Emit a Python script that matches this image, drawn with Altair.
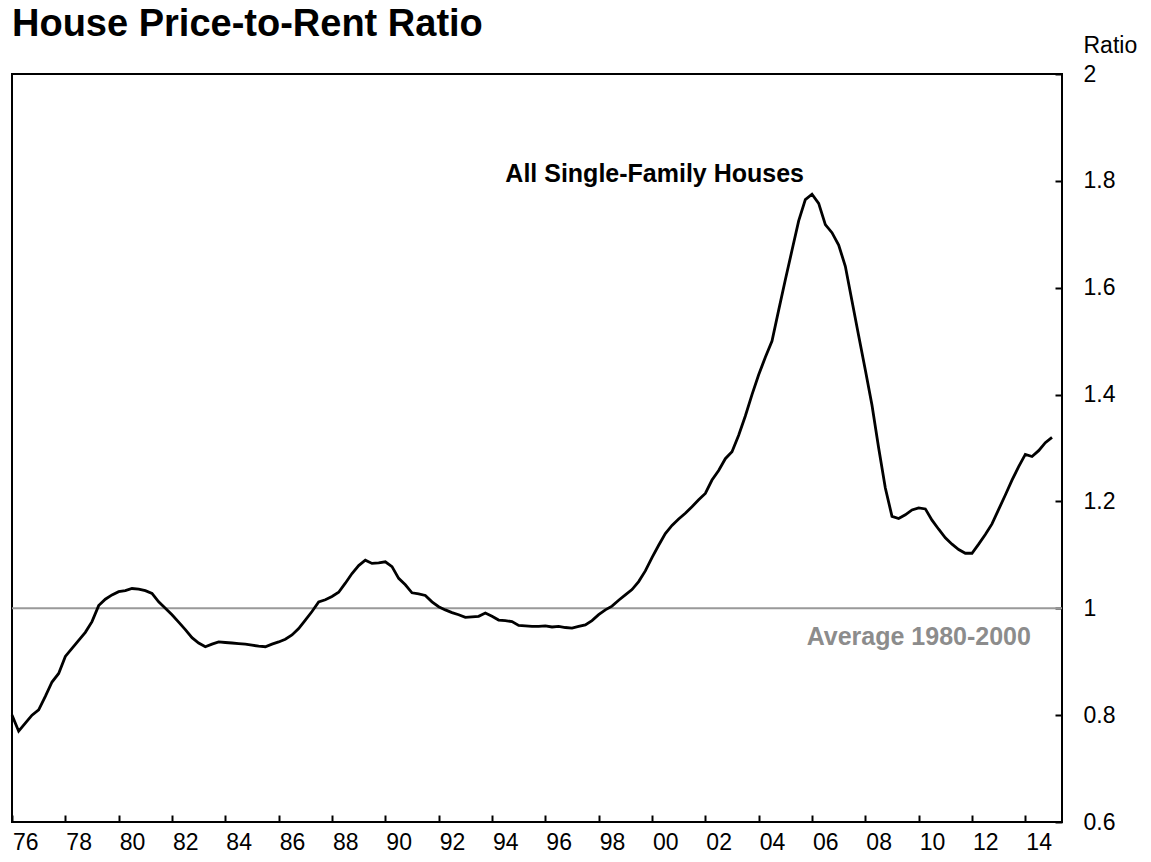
import altair as alt
import pandas as pd

# Quarterly house price-to-rent ratio, 1976Q1 .. 2015Q1
start_year = 1976
ratio_values = [
    0.800, 0.770, 0.785, 0.800,   # 1976
    0.810, 0.835, 0.862, 0.878,   # 1977
    0.910, 0.925, 0.940, 0.955,   # 1978
    0.975, 1.005, 1.017, 1.025,   # 1979
    1.031, 1.033, 1.037, 1.036,   # 1980
    1.033, 1.028, 1.012, 1.000,   # 1981
    0.988, 0.974, 0.960, 0.945,   # 1982
    0.935, 0.928, 0.933, 0.937,   # 1983
    0.936, 0.935, 0.934, 0.933,   # 1984
    0.931, 0.929, 0.928, 0.933,   # 1985
    0.937, 0.942, 0.950, 0.962,   # 1986
    0.978, 0.994, 1.012, 1.016,   # 1987
    1.022, 1.030, 1.047, 1.065,   # 1988
    1.080, 1.090, 1.084, 1.085,   # 1989
    1.087, 1.078, 1.056, 1.044,   # 1990
    1.029, 1.027, 1.024, 1.012,   # 1991
    1.003, 0.997, 0.992, 0.988,   # 1992
    0.983, 0.984, 0.985, 0.991,   # 1993
    0.985, 0.978, 0.977, 0.975,   # 1994
    0.968, 0.967, 0.966, 0.966,   # 1995
    0.967, 0.965, 0.966, 0.964,   # 1996
    0.963, 0.966, 0.969, 0.977,   # 1997
    0.988, 0.997, 1.004, 1.015,   # 1998
    1.025, 1.035, 1.050, 1.070,   # 1999
    1.095, 1.118, 1.140, 1.155,   # 2000
    1.167, 1.178, 1.190, 1.203,   # 2001
    1.215, 1.240, 1.258, 1.280,   # 2002
    1.293, 1.324, 1.360, 1.400,   # 2003
    1.437, 1.470, 1.500, 1.558,   # 2004
    1.615, 1.670, 1.725, 1.765,   # 2005
    1.775, 1.758, 1.718, 1.703,   # 2006
    1.680, 1.640, 1.575, 1.510,   # 2007
    1.446, 1.380, 1.300, 1.225,   # 2008
    1.172, 1.168, 1.175, 1.184,   # 2009
    1.188, 1.186, 1.165, 1.148,   # 2010
    1.132, 1.120, 1.110, 1.103,   # 2011
    1.103, 1.120, 1.138, 1.158,   # 2012
    1.185, 1.212, 1.240, 1.265,   # 2013
    1.288, 1.284, 1.295, 1.310,   # 2014
    1.320,                        # 2015
]
periods = [start_year + i / 4 for i in range(len(ratio_values))]

average_level = [1.0]
year_ticks = list(range(1976, 2016))
y_tick_values = [0.6, 0.8, 1.0, 1.2, 1.4, 1.6, 1.8, 2.0]

annot_text = ["All Single-Family Houses", "Average 1980-2000"]
annot_x = [1994.5, 2005.8]
annot_y = [1.797, 0.931]
annot_color = ["#000000", "#8c8c8c"]

FONT = "Liberation Sans"
W, H = 1050, 748
x_dom = [1976, 2015.375]
y_dom = [0.6, 2.0]
TICK = 7
half_year_px = W / (x_dom[1] - x_dom[0]) / 2

df = pd.DataFrame({"period": periods, "ratio": ratio_values})
x_scale = alt.Scale(domain=x_dom, nice=False, zero=False)
y_scale = alt.Scale(domain=y_dom, nice=False, zero=False)

line = alt.Chart(df).mark_line(color="black", strokeWidth=2.8).encode(
    x=alt.X(
        "period:Q",
        scale=x_scale,
        axis=alt.Axis(
            values=year_ticks,
            labelExpr="datum.value % 2 == 0 ? slice('0' + toString(datum.value % 100), -2) : ''",
            ticks=True,
            tickSize=TICK,
            tickWidth=2,
            tickColor="#000",
            offset=-TICK,
            labelOffset=half_year_px,
            labelOverlap=False,
            labelFlush=False,
            grid=False,
            domain=False,
            labelFontSize=23,
            labelFont=FONT,
            labelColor="#000",
            labelPadding=9,
            title=None,
        ),
    ),
    y=alt.Y(
        "ratio:Q",
        scale=y_scale,
        axis=alt.Axis(
            orient="right",
            values=y_tick_values,
            format=".1~f",
            ticks=True,
            tickSize=TICK,
            tickWidth=2,
            tickColor="#000",
            offset=-TICK,
            grid=False,
            domain=False,
            labelFontSize=23,
            labelFont=FONT,
            labelColor="#000",
            labelPadding=21,
            labelBaseline="middle",
            labelFlush=False,
            labelOverlap=False,
            title="Ratio",
            titleAngle=0,
            titleAlign="left",
            titleBaseline="alphabetic",
            titleX=21 + TICK,
            titleY=-22,
            titleFont=FONT,
            titleFontSize=23,
            titleFontWeight="normal",
            titleColor="#000",
        ),
    ),
)

avg = alt.Chart(pd.DataFrame({"avg": average_level})).mark_rule(
    color="#999999", strokeWidth=2
).encode(y=alt.Y("avg:Q", scale=y_scale))

ann = alt.Chart(
    pd.DataFrame({"t": annot_text, "x": annot_x, "y": annot_y, "c": annot_color})
).mark_text(
    font=FONT, fontSize=25, fontWeight="bold", align="left", baseline="alphabetic"
).encode(
    x=alt.X("x:Q", scale=x_scale),
    y=alt.Y("y:Q", scale=y_scale),
    text="t:N",
    color=alt.Color("c:N", scale=None),
)

chart = (
    alt.layer(avg, line, ann)
    .properties(
        width=W,
        height=H,
        title=alt.TitleParams(
            "House Price-to-Rent Ratio",
            anchor="start",
            frame="group",
            font=FONT,
            fontSize=38,
            fontWeight="bold",
            color="#000",
            offset=-10,
        ),
        autosize=alt.AutoSizeParams(type="none"),
        padding={"left": 4, "top": 66, "right": 78, "bottom": 38},
    )
    .configure(background="white")
    .configure_view(stroke="black", strokeWidth=2)
)

chart.save("out.html", embed_options={"renderer": "svg", "actions": False})
